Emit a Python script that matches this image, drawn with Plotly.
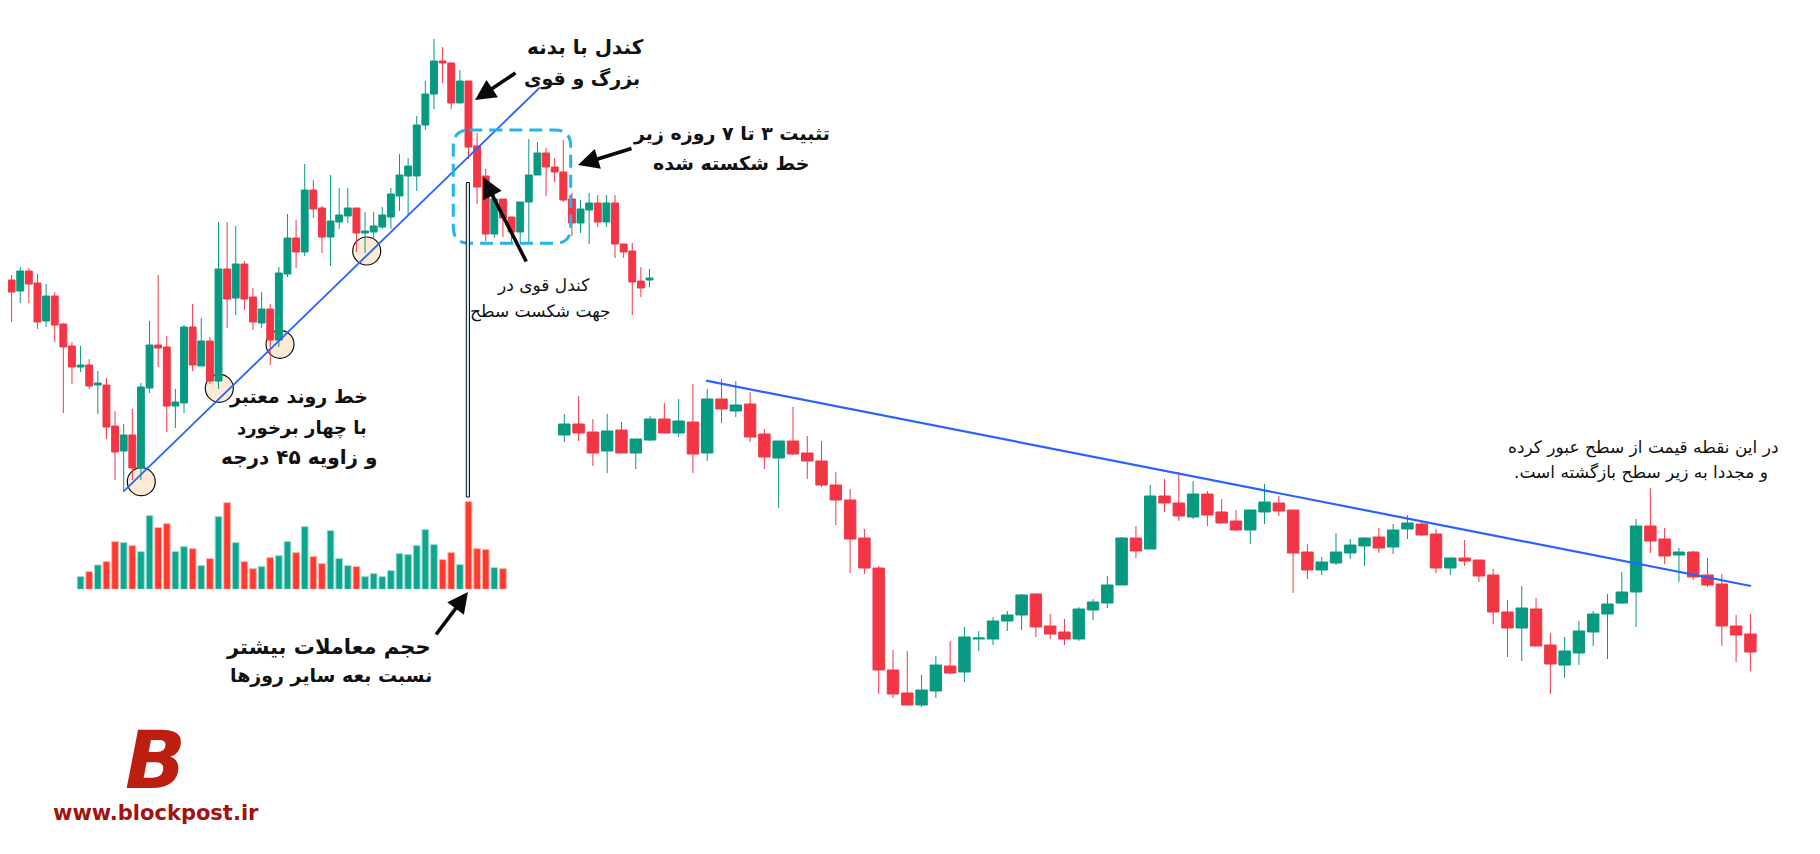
import plotly.graph_objects as go

W, H = 1820, 854
OFF = 8  # page offset compensation (body margin)
GREEN = "#089981"
RED = "#F23645"
BLUE = "#2962FF"

# ---------------- left chart (daily candles, price units) ----------------
left_open = [620, 574, 563, 583, 571, 533, 558, 530, 508, 487, 489, 469, 469, 428, 403, 419, 386, 466, 509, 507,
             448, 451, 527, 488, 513, 473, 585, 556, 590, 557, 531, 545, 514, 580, 616, 602, 664, 646, 617, 632,
             638, 646, 621, 622, 627, 637, 658, 678, 678, 729, 760, 793, 791, 751, 773, 708, 678, 620, 655, 637,
             622, 652, 679, 701, 687, 682, 655, 631, 644, 651, 632, 651, 610, 603, 573, 574]
left_high = [628, 579, 587, 586, 580, 570, 562, 531, 512, 508, 495, 483, 476, 443, 430, 445, 471, 533, 579, 518,
             465, 529, 550, 536, 517, 632, 632, 628, 593, 566, 562, 550, 587, 640, 634, 690, 674, 648, 679, 666,
             666, 646, 642, 642, 647, 666, 700, 696, 738, 773, 815, 807, 792, 784, 773, 721, 685, 664, 655, 637,
             652, 715, 712, 706, 696, 714, 661, 654, 661, 659, 659, 659, 610, 611, 587, 585]
left_low = [552, 532, 551, 551, 525, 527, 512, 441, 470, 482, 465, 440, 415, 374, 364, 374, 374, 461, 487, 422,
            426, 441, 483, 488, 470, 465, 526, 539, 544, 524, 526, 489, 507, 577, 586, 598, 636, 601, 588, 625,
            631, 602, 601, 615, 625, 625, 643, 639, 663, 724, 745, 771, 745, 751, 695, 650, 613, 616, 617, 611,
            611, 612, 679, 658, 672, 652, 618, 621, 610, 627, 627, 596, 596, 539, 557, 567]
left_close = [573, 562, 583, 570, 532, 558, 529, 507, 487, 489, 468, 471, 427, 402, 419, 386, 467, 509, 506, 448,
              452, 527, 489, 513, 473, 585, 555, 590, 555, 532, 545, 514, 581, 616, 602, 664, 645, 617, 633, 639,
              646, 621, 623, 628, 639, 660, 679, 688, 729, 760, 793, 791, 751, 773, 707, 667, 620, 655, 636, 622,
              652, 679, 701, 687, 682, 654, 631, 645, 651, 632, 651, 610, 602, 572, 566, 576]
# volume bars under candles 10 .. 59
volume_start = 9
volume = [12.7, 17.7, 24.3, 27.7, 47.7, 46.7, 43.7, 37.7, 73.7, 61.7, 65.7, 37.7, 42.7, 40.7, 23.7, 30.7, 72.7,
          86.7, 46.7, 27.7, 20.7, 22.7, 31.7, 33.7, 47.7, 36.7, 62.7, 32.7, 25.7, 58.7, 30.7, 23.7, 22.7, 12.7,
          15.7, 12.7, 18.7, 35.7, 34.7, 43.7, 59.7, 44.7, 29.7, 36.7, 24.7, 87.7, 40.7, 39.7, 21.7, 20.7]

# ---------------- right chart ----------------
right_open = [419, 430, 422, 403, 424, 401, 414, 435, 421, 432, 401, 455, 443, 450, 420, 396, 413, 401, 393, 369,
              354, 316, 286, 184, 161, 149, 163, 188, 182, 215, 215, 233, 239, 260, 228, 222, 215, 244, 251, 269,
              316, 305, 358, 351, 337, 360, 342, 333, 324, 342, 351, 344, 302, 284, 291, 301, 308, 317, 307, 325,
              330, 320, 286, 296, 294, 279, 242, 226, 245, 209, 189, 201, 222, 240, 251, 262, 328, 315, 299, 302,
              279, 270, 228, 220]
right_high = [440, 458, 435, 440, 432, 415, 438, 451, 455, 470, 465, 475, 473, 462, 425, 413, 447, 418, 413, 382,
              365, 325, 288, 204, 203, 179, 198, 213, 227, 223, 237, 243, 260, 261, 240, 235, 247, 255, 278, 317,
              328, 369, 375, 382, 373, 363, 355, 344, 344, 370, 358, 344, 310, 297, 321, 315, 317, 326, 330, 339,
              332, 325, 296, 314, 294, 285, 254, 268, 256, 221, 217, 233, 243, 260, 282, 335, 366, 326, 306, 303,
              296, 280, 239, 240]
right_low = [412, 413, 388, 381, 401, 385, 413, 421, 417, 381, 393, 431, 437, 412, 385, 346, 399, 375, 367, 329,
             281, 280, 160, 156, 149, 147, 156, 180, 172, 203, 209, 223, 224, 217, 215, 209, 213, 234, 246, 269,
             296, 305, 342, 333, 335, 328, 331, 323, 310, 330, 338, 261, 275, 279, 289, 295, 288, 301, 300, 315,
             318, 281, 279, 288, 272, 230, 197, 193, 208, 160, 176, 189, 208, 195, 250, 227, 301, 290, 272, 274,
             267, 208, 192, 183]
right_close = [430, 421, 401, 423, 401, 415, 435, 421, 433, 400, 455, 445, 449, 417, 397, 413, 400, 393, 369, 354,
               315, 286, 184, 160, 149, 164, 189, 181, 217, 216, 233, 239, 259, 227, 220, 215, 245, 252, 269, 316,
               303, 358, 351, 338, 360, 339, 331, 324, 344, 352, 343, 301, 284, 292, 302, 309, 316, 306, 324, 331,
               319, 286, 296, 293, 278, 242, 226, 246, 208, 190, 203, 223, 240, 250, 262, 328, 313, 298, 302, 277,
               269, 228, 219, 202]

# trend lines (candle index, price)
left_trend_x = [13.96, 62.30]
left_trend_y = [362.3, 766.7]
right_trend_x = [9.92, 83.04]
right_trend_y = [473.3, 268.0]


def X(p):
    return (p - OFF) / W


def Y(p):
    return 1 - (p - OFF) / H


fig = go.Figure()

candle_style = dict(
    increasing=dict(line=dict(color=GREEN, width=1), fillcolor=GREEN),
    decreasing=dict(line=dict(color=RED, width=1), fillcolor=RED),
    whiskerwidth=0, showlegend=False, hoverinfo="skip",
)

vol_x = list(range(volume_start, volume_start + len(volume)))
vol_up = [left_close[i] >= left_open[i] for i in vol_x]
fig.add_trace(go.Bar(
    x=vol_x, y=volume, xaxis="x", yaxis="y3", width=0.78,
    marker=dict(color=["#0FA68F" if u else "#FF3B30" for u in vol_up],
                line=dict(color=["#9EDDD3" if u else "#FFB4AE" for u in vol_up], width=1)),
    showlegend=False, hoverinfo="skip"))

fig.add_trace(go.Candlestick(x=list(range(len(left_open))), open=left_open, high=left_high,
                             low=left_low, close=left_close, xaxis="x", yaxis="y", **candle_style))
fig.add_trace(go.Candlestick(x=list(range(len(right_open))), open=right_open, high=right_high,
                             low=right_low, close=right_close, xaxis="x2", yaxis="y", **candle_style))

fig.add_trace(go.Scatter(x=left_trend_x, y=left_trend_y, mode="lines", xaxis="x", yaxis="y",
                         line=dict(color=BLUE, width=1.8), showlegend=False, hoverinfo="skip"))
fig.add_trace(go.Scatter(x=right_trend_x, y=right_trend_y, mode="lines", xaxis="x2", yaxis="y",
                         line=dict(color=BLUE, width=2.2), showlegend=False, hoverinfo="skip"))

shapes = []
# touch circles
for cx, cy in [(141.3, 481.7), (219.3, 388.3), (280, 344.3), (366.7, 251)]:
    r = 14
    shapes.append(dict(type="circle", xref="paper", yref="paper", x0=X(cx - r), x1=X(cx + r),
                       y0=Y(cy + r), y1=Y(cy - r), fillcolor="#FDEBD5",
                       line=dict(color="#111111", width=1.2), layer="below"))

# dashed rounded box
x0, x1, y0, y1, rr = 453.3, 570.7, 130.0, 243.3, 16
pts = [("M", x0 + rr, y0), ("L", x1 - rr, y0), ("Q", x1, y0, x1, y0 + rr), ("L", x1, y1 - rr),
       ("Q", x1, y1, x1 - rr, y1), ("L", x0 + rr, y1), ("Q", x0, y1, x0, y1 - rr), ("L", x0, y0 + rr),
       ("Q", x0, y0, x0 + rr, y0)]
path = ""
for p in pts:
    cmd = p[0]
    coords = p[1:]
    segs = []
    for k in range(0, len(coords), 2):
        segs.append(f"{X(coords[k]):.6f},{Y(coords[k + 1]):.6f}")
    path += cmd + " " + " ".join(segs) + " "
shapes.append(dict(type="path", xref="paper", yref="paper", path=path + "Z",
                   line=dict(color="#22B5EC", width=3, dash="13px,7px")))

# vertical marker line from candle to volume bar
shapes.append(dict(type="rect", xref="paper", yref="paper", x0=X(466.3), x1=X(469.5),
                   y0=Y(497), y1=Y(182.5), fillcolor="#CBE9F6", line=dict(color="#111111", width=1)))

annotations = []
FONT = "DejaVu Sans"


def text(t, x, y, size, color="#111111", bold=True):
    annotations.append(dict(text=t, x=X(x), y=Y(y), xref="paper", yref="paper", showarrow=False,
                            xanchor="center", yanchor="middle",
                            font=dict(family=FONT, size=size, color=color,
                                      weight="bold" if bold else "normal")))


def arrow(hx, hy, tx, ty):
    annotations.append(dict(text="", x=X(hx), y=Y(hy), xref="paper", yref="paper", showarrow=True,
                            ax=tx - hx, ay=ty - hy, axref="pixel", ayref="pixel",
                            arrowhead=2, arrowsize=1.15, arrowwidth=3.6, arrowcolor="#0A0A0A",
                            standoff=0, startstandoff=0))


RLM = "\u200f"
text("کندل با بدنه", 585, 47, 20)
text("بزرگ و قوی", 582, 79, 19)
text("تثبیت ۳ تا ۷ روزه زیر", 731, 133, 19)
text("خط شکسته شده", 731, 163, 19)
text("کندل قوی در", 543, 285, 17, bold=False)
text("جهت شکست سطح", 540, 311, 17, bold=False)
text("خط روند معتبر", 298, 397, 19)
text("با چهار برخورد", 302, 428, 18)
text("و زاویه ۴۵ درجه", 299, 457, 20)
text("حجم معاملات بیشتر", 328, 647, 21)
text("نسبت بعه سایر روزها", 331, 675, 19)
text("در این نقطه قیمت از سطح عبور کرده", 1643, 447, 17, bold=False)
text("و مجددا به زیر سطح بازگشته است." + RLM, 1641, 472, 17, bold=False)

arrow(475, 100, 517, 72)
arrow(578, 165, 633, 148)
arrow(483, 177, 527, 263)
arrow(468, 592, 435, 636)

# logo
annotations.append(dict(text="B", x=X(155), y=Y(760), xref="paper", yref="paper", showarrow=False,
                        xanchor="center", yanchor="middle",
                        font=dict(family="DejaVu Sans", size=80, color="#BC1F0F", weight="bold",
                                  style="italic")))
annotations.append(dict(text="www.blockpost.ir", x=X(156), y=Y(813), xref="paper", yref="paper",
                        showarrow=False, xanchor="center", yanchor="middle",
                        font=dict(family="DejaVu Sans", size=21, color="#A3120E", weight="bold")))

fig.update_layout(
    width=W, height=H, margin=dict(l=0, r=0, t=0, b=0),
    paper_bgcolor="white", plot_bgcolor="rgba(0,0,0,0)",
    boxgap=0.2, boxgroupgap=0, showlegend=False,
    xaxis=dict(range=[0.580, 211.72], visible=False, domain=[0, 1], anchor="y",
               rangeslider=dict(visible=False), fixedrange=True),
    xaxis2=dict(range=[-38.93, 88.43], visible=False, overlaying="x", anchor="y",
                rangeslider=dict(visible=False), fixedrange=True),
    yaxis=dict(range=[-8, 846], visible=False, domain=[0, 1], fixedrange=True),
    yaxis3=dict(range=[0, 100], visible=False, domain=[0.31932, 0.43642], anchor="x", fixedrange=True),
    shapes=shapes, annotations=annotations,
)

fig.write_html("out.html")
